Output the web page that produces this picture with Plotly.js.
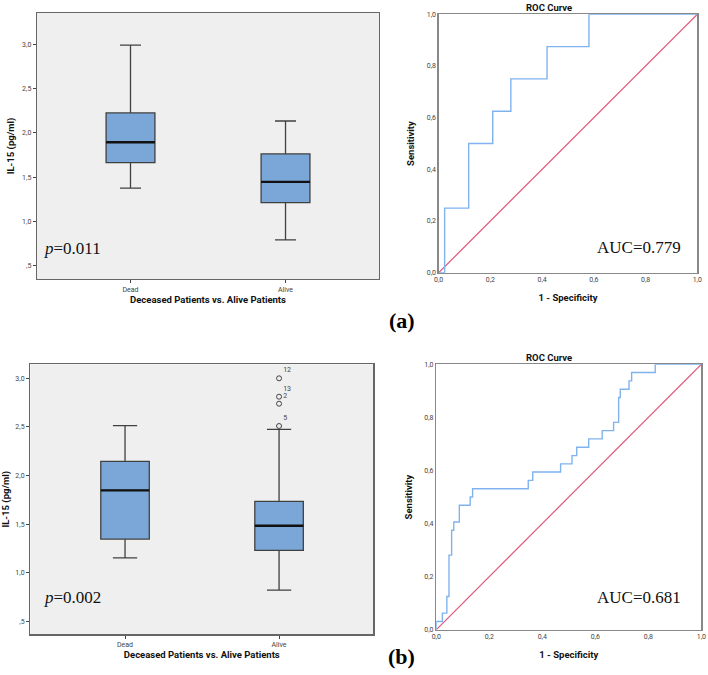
<!DOCTYPE html>
<html>
<head>
<meta charset="utf-8">
<script src="https://cdn.plot.ly/plotly-3.0.1.min.js"></script>
<style>html,body{margin:0;padding:0;background:#fff;}#chart{width:708px;height:675px;}</style>
</head>
<body>
<div id="chart"></div>
<script>
// ---- Data ----
const categories = ['Dead', 'Alive'];

// Panel (a) box statistics
const q1A = [1.664, 1.212];
const medianA = [1.894, 1.446];
const q3A = [2.225, 1.762];
const lowA = [1.375, 0.791];
const highA = [2.99, 2.134];

// Panel (b) box statistics
const q1B = [1.348, 1.232];
const medianB = [1.849, 1.485];
const q3B = [2.147, 1.736];
const lowB = [1.156, 0.824];
const highB = [2.513, 2.476];

// Panel (b) outliers
const outlierGroup = ['Alive', 'Alive', 'Alive', 'Alive'];
const outlierValues = [3.0, 2.811, 2.739, 2.51];
const outlierLabels = ['12', '13', '2', '5'];

// ROC (a)
const rocA_fpr = [0, 0.023, 0.116, 0.209, 0.279, 0.419, 0.581, 1.0];
const rocA_tpr = [0, 0.25, 0.5, 0.625, 0.75, 0.875, 1.0, 1.0];

// ROC (b)
const rocB_fpr = [0, 0, 0.023, 0.040, 0.048, 0.058, 0.066, 0.087, 0.128, 0.137, 0.347, 0.364, 0.469, 0.512, 0.530, 0.575, 0.626, 0.669, 0.688, 0.694, 0.727, 0.737, 0.826, 1.0];
const rocB_tpr = [0, 0.031, 0.0625, 0.125, 0.281, 0.375, 0.406, 0.469, 0.5, 0.531, 0.5625, 0.594, 0.625, 0.656, 0.6875, 0.719, 0.75, 0.781, 0.875, 0.906, 0.9375, 0.969, 1.0, 1.0];

// Reference diagonal
const diagX = [0, 1];
const diagY = [0, 1];

// Tick labels
const boxTickVals = [0.5, 1.0, 1.5, 2.0, 2.5, 3.0];
const boxTickText = [',5', '1,0', '1,5', '2,0', '2,5', '3,0'];
const rocTickVals = [0, 0.2, 0.4, 0.6, 0.8, 1.0];
const rocTickText = ['0,0', '0,2', '0,4', '0,6', '0,8', '1,0'];

const pTextA = '<i>p</i>=0.011';
const pTextB = '<i>p</i>=0.002';
const aucTextA = 'AUC=0.779';
const aucTextB = 'AUC=0.681';

// ---- Styles ----
const SANS = 'Roboto, "DejaVu Sans", sans-serif';
const SERIF = '"Liberation Serif", "DejaVu Serif", serif';
const boxFill = '#7aa7d7';
const boxLine = '#404040';
const rocBlue = '#80b3ee';
const diagRed = '#e0577a';

function boxTrace(xa, ya, q1, med, q3, lo, hi, ww) {
  return {
    type: 'box', xaxis: xa, yaxis: ya,
    x: categories, q1: q1, median: med, q3: q3, lowerfence: lo, upperfence: hi,
    width: 0.315, whiskerwidth: ww,
    fillcolor: boxFill, line: {color: boxLine, width: 1.3},
    boxpoints: false, hoverinfo: 'skip'
  };
}
function medianTrace(xa, ya, med) {
  return {
    type: 'box', xaxis: xa, yaxis: ya,
    x: categories, q1: med, median: med, q3: med, lowerfence: med, upperfence: med,
    width: 0.315, whiskerwidth: 0,
    fillcolor: 'rgba(0,0,0,0)', line: {color: '#111', width: 2.4},
    boxpoints: false, hoverinfo: 'skip'
  };
}

const data = [
  boxTrace('x', 'y', q1A, medianA, q3A, lowA, highA, 0.43),
  medianTrace('x', 'y', medianA),
  {
    type: 'scatter', mode: 'lines', xaxis: 'x2', yaxis: 'y2',
    x: diagX, y: diagY, line: {color: diagRed, width: 1.2}, hoverinfo: 'skip'
  },
  {
    type: 'scatter', mode: 'lines', xaxis: 'x2', yaxis: 'y2',
    x: rocA_fpr, y: rocA_tpr, line: {color: rocBlue, width: 1.4, shape: 'hv'}, hoverinfo: 'skip'
  },
  boxTrace('x3', 'y3', q1B, medianB, q3B, lowB, highB, 0.5),
  medianTrace('x3', 'y3', medianB),
  {
    type: 'scatter', mode: 'markers+text', xaxis: 'x3', yaxis: 'y3',
    x: outlierGroup, y: outlierValues, text: outlierLabels,
    textposition: 'top right', textfont: {family: SANS, size: 7, color: '#444'},
    marker: {symbol: 'circle-open', size: 5, color: '#444', line: {width: 1}},
    hoverinfo: 'skip'
  },
  {
    type: 'scatter', mode: 'lines', xaxis: 'x4', yaxis: 'y4',
    x: diagX, y: diagY, line: {color: diagRed, width: 1.2}, hoverinfo: 'skip'
  },
  {
    type: 'scatter', mode: 'lines', xaxis: 'x4', yaxis: 'y4',
    x: rocB_fpr, y: rocB_tpr, line: {color: rocBlue, width: 1.4, shape: 'hv'}, hoverinfo: 'skip'
  }
];

const tickFont = {family: SANS, size: 7, color: '#444'};
const titleFont = {family: SANS, size: 9.5, color: '#111'};

function boxX(domain, range, anchor) {
  return {
    domain: domain, anchor: anchor, type: 'category', categoryarray: categories,
    range: range, showgrid: false, zeroline: false,
    showline: true, mirror: true, linecolor: '#666', linewidth: 1.3,
    ticks: 'outside', ticklen: 3, tickcolor: '#444', tickfont: tickFont,
    title: {text: '<b>Deceased Patients vs. Alive Patients</b>', font: titleFont, standoff: 3}
  };
}
function boxY(domain, range, anchor) {
  return {
    domain: domain, anchor: anchor, range: range, showgrid: false, zeroline: false,
    showline: true, mirror: true, linecolor: '#666', linewidth: 1.3,
    tickvals: boxTickVals, ticktext: boxTickText,
    ticks: 'outside', ticklen: 3, tickcolor: '#444', tickfont: tickFont,
    title: {text: '<b>IL-15 (pg/ml)</b>', font: titleFont, standoff: 5}
  };
}
function rocX(domain, anchor) {
  return {
    domain: domain, anchor: anchor, range: [0, 1], showgrid: false, zeroline: false,
    showline: true, mirror: true, linecolor: '#888', linewidth: 1.3,
    tickvals: rocTickVals, ticktext: rocTickText, ticks: '', tickfont: tickFont,
    title: {text: '<b>1 - Specificity</b>', font: titleFont, standoff: 11}
  };
}
function rocY(domain, anchor) {
  return {
    domain: domain, anchor: anchor, range: [0, 1], showgrid: false, zeroline: false,
    showline: true, mirror: true, linecolor: '#888', linewidth: 1.3,
    tickvals: rocTickVals, ticktext: rocTickText, ticks: '', tickfont: tickFont,
    title: {text: '<b>Sensitivity</b>', font: titleFont, standoff: 10}
  };
}

const layout = {
  width: 708, height: 675,
  margin: {l: 0, r: 0, t: 0, b: 0},
  paper_bgcolor: '#ffffff', plot_bgcolor: '#ffffff',
  showlegend: false, boxmode: 'overlay',
  font: {family: SANS},
  xaxis: boxX([0.0523, 0.5353], [-0.603, 1.603], 'y'),
  yaxis: boxY([0.5867, 0.9807], [0.35, 3.353], 'x'),
  xaxis2: rocX([0.6196, 0.9849], 'y2'),
  yaxis2: rocY([0.596, 0.9788], 'x2'),
  xaxis3: boxX([0.0428, 0.5273], [-0.615, 1.612], 'y3'),
  yaxis3: boxY([0.0603, 0.4603], [0.37, 3.144], 'x3'),
  xaxis4: rocX([0.6162, 0.9906], 'y4'),
  yaxis4: rocY([0.0671, 0.4603], 'x4'),
  shapes: [
    {type: 'rect', xref: 'x domain', yref: 'y domain', x0: 0, x1: 1, y0: 0, y1: 1,
     fillcolor: '#efefef', line: {width: 0}, layer: 'below'},
    {type: 'rect', xref: 'x3 domain', yref: 'y3 domain', x0: 0, x1: 1, y0: 0, y1: 1,
     fillcolor: '#efefef', line: {width: 0}, layer: 'below'}
  ],
  annotations: [
    {text: '<b>ROC Curve</b>', xref: 'paper', yref: 'paper', x: 0.7754, y: 0.9896,
     showarrow: false, font: titleFont, xanchor: 'center', yanchor: 'middle'},
    {text: '<b>ROC Curve</b>', xref: 'paper', yref: 'paper', x: 0.7754, y: 0.4707,
     showarrow: false, font: titleFont, xanchor: 'center', yanchor: 'middle'},
    {text: pTextA, xref: 'paper', yref: 'paper', x: 42 / 708, y: 1 - 248 / 675,
     showarrow: false, font: {family: SERIF, size: 17, color: '#111'}, xanchor: 'left', yanchor: 'middle'},
    {text: pTextB, xref: 'paper', yref: 'paper', x: 42 / 708, y: 1 - 597 / 675,
     showarrow: false, font: {family: SERIF, size: 17, color: '#111'}, xanchor: 'left', yanchor: 'middle'},
    {text: aucTextA, xref: 'paper', yref: 'paper', x: 683 / 708, y: 1 - 247 / 675,
     showarrow: false, font: {family: SERIF, size: 17, color: '#111'}, xanchor: 'right', yanchor: 'middle'},
    {text: aucTextB, xref: 'paper', yref: 'paper', x: 683 / 708, y: 1 - 597 / 675,
     showarrow: false, font: {family: SERIF, size: 17, color: '#111'}, xanchor: 'right', yanchor: 'middle'},
    {text: '<b>(a)</b>', xref: 'paper', yref: 'paper', x: 402 / 708, y: 1 - 321 / 675,
     showarrow: false, font: {family: SERIF, size: 22, color: '#000'}, xanchor: 'center', yanchor: 'middle'},
    {text: '<b>(b)</b>', xref: 'paper', yref: 'paper', x: 401 / 708, y: 1 - 656 / 675,
     showarrow: false, font: {family: SERIF, size: 22, color: '#000'}, xanchor: 'center', yanchor: 'middle'}
  ]
};

Plotly.newPlot('chart', data, layout, {displayModeBar: false, staticPlot: true});
</script>
</body>
</html>
